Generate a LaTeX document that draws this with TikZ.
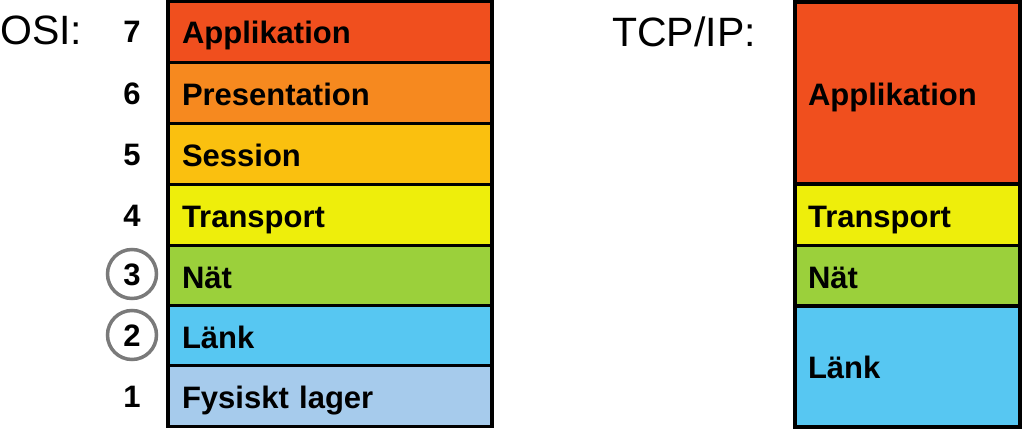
\documentclass[tikz,border=0pt]{standalone}
\usepackage{fontspec}
\setmainfont{Liberation Sans}
\usepackage{tikz}

\definecolor{appcol}{HTML}{F04F1E}
\definecolor{prescol}{HTML}{F6891F}
\definecolor{sesscol}{HTML}{FAC00F}
\definecolor{transcol}{HTML}{EEEE0B}
\definecolor{natcol}{HTML}{9BD03B}
\definecolor{lankcol}{HTML}{57C7F2}
\definecolor{fyscol}{HTML}{A6CBEC}
\definecolor{ringcol}{HTML}{7A7A7A}

\tikzset{
  osilayer/.style={draw=black, line width=3.5pt, rectangle, inner xsep=14pt, inner ysep=0pt,
    text width=296pt, align=left, minimum height=61pt,
    font=\bfseries\fontsize{31}{31}\selectfont, text height=24pt, text depth=0pt},
  tcplayer/.style={osilayer, inner xsep=13pt, text width=199pt},
  layernum/.style={font=\bfseries\fontsize{31}{31}\selectfont, inner sep=0pt,
    text height=22pt, text depth=0pt},
  ringnum/.style={layernum, text height=22pt, circle, draw=ringcol, line width=3.5pt,
    minimum size=49pt},
  title/.style={font=\fontsize{41}{41}\selectfont, inner sep=0pt, anchor=base west}
}

\begin{document}
\begin{tikzpicture}[x=1pt,y=-1pt]
\useasboundingbox (0,0) rectangle (1024,428);

% OSI stack
\node[title] (osi) at (0,45) {OSI:};
\node[osilayer, fill=appcol] (o7) at (330,32) {Applikation};
\node[osilayer, fill=prescol] (o6) at (330,93) {Presentation};
\node[osilayer, fill=sesscol] (o5) at (330,154) {Session};
\node[osilayer, fill=transcol] (o4) at (330,215) {Transport};
\node[osilayer, fill=natcol] (o3) at (330,276) {Nät};
\node[osilayer, fill=lankcol] (o2) at (330,336) {Länk};
\node[osilayer, fill=fyscol] (o1) at (330,396) {Fysiskt lager};

\node[layernum] (n7) at (132,32) {7};
\node[layernum] (n6) at (132,93) {6};
\node[layernum] (n5) at (132,154) {5};
\node[layernum] (n4) at (132,215) {4};
\node[ringnum] (n3) at (132,274) {3};
\node[ringnum] (n2) at (132,335) {2};
\node[layernum] (n1) at (132,396) {1};

% TCP/IP stack
\node[title] (tcp) at (612,46) {TCP/IP:};
\node[tcplayer, fill=appcol, minimum height=182pt] (t4) at (907.5,93) {Applikation};
\node[tcplayer, fill=transcol] (t3) at (907.5,215) {Transport};
\node[tcplayer, fill=natcol] (t2) at (907.5,276) {Nät};
\node[tcplayer, fill=lankcol, minimum height=121pt] (t1) at (907.5,366.5) {Länk};
\end{tikzpicture}
\end{document}
